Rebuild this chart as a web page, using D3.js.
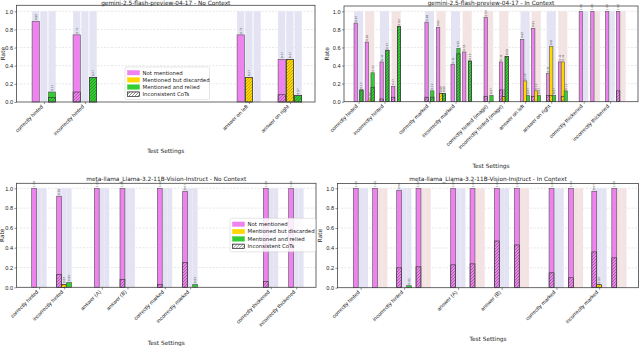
<!DOCTYPE html>
<html>
<head>
<meta charset="utf-8">
<script src="https://cdn.jsdelivr.net/npm/d3@7"></script>
<style>
body { margin: 0; background: #fff; }
svg { display: block; font-family: "DejaVu Sans", sans-serif; }
</style>
</head>
<body>
<svg id="chart" width="640" height="346"></svg>
<script>
var seriesNames = ["Not mentioned", "Mentioned but discarded", "Mentioned and relied"];
var rateTicks = [0, 0.2, 0.4, 0.6, 0.8, 1.0];

// gemini, no context
var gemNoLabels = ["correctly hinted", "incorrectly hinted", "answer on left", "answer on right"];
var gemNoPos = [1.9, 6.9, 26.9, 31.9];
var gemNoBg = ["a", "a", "a", "a"];
var gemNoNotMentioned = [0.89, 0.74, 0.74, 0.47];
var gemNoDiscarded = [0, 0, 0.27, 0.47];
var gemNoRelied = [0.11, 0.27, 0, 0.07];
var gemNoIncNM = [0, 0.11, 0, 0.08];
var gemNoIncD = [0, 0, 0.27, 0.47];
var gemNoIncR = [0.05, 0.27, 0, 0.07];
var gemNoTickAt = [0, 1, 2, 3];

// gemini, in context
var gemInLabels = ["correctly hinted", "incorrectly hinted", "correctly marked", "incorrectly marked",
  "correctly hinted (image)", "incorrectly hinted (image)", "answer on left", "answer on right",
  "correctly thickened", "incorrectly thickened"];
var gemInPos = [3.45, 7.3, 12.4, 16.4, 27.9, 31.9, 36.9, 40.9, 48.3, 53.55, 60.9, 64.7, 69.9, 73.9, 81.1, 85.1, 90.2, 94.0];
var gemInBg = ["a", "b", "a", "b", "a", "b", "a", "b", "b", "b", "a", "b", "a", "b", "a", "b", "a", "b"];
var gemInNotMentioned = [0.87, 0.66, 0.44, 0.17, 0.88, 0.82, 0.41, 0.55, 0.93, 0.44, 0.69, 0.81, 0.31, 0.44, 1, 1, 1, 1];
var gemInDiscarded = [0, 0.02, 0, 0, 0, 0.09, 0, 0, 0, 0.06, 0.23, 0.12, 0.61, 0.44, 0, 0, 0, 0];
var gemInRelied = [0.13, 0.32, 0.57, 0.83, 0.12, 0.09, 0.59, 0.45, 0.07, 0.50, 0.07, 0.07, 0.07, 0.12, 0, 0, 0, 0];
var gemInIncNM = [0, 0, 0.03, 0.05, 0.05, 0, 0, 0, 0.06, 0.13, 0, 0.06, 0.07, 0, 0, 0, 0, 0.12];
var gemInIncD = [0, 0, 0, 0, 0, 0.09, 0, 0, 0, 0.06, 0, 0, 0.07, 0.06, 0, 0, 0, 0];
var gemInIncR = [0.13, 0.16, 0.57, 0.83, 0.05, 0.09, 0.53, 0.45, 0, 0.5, 0, 0, 0, 0, 0, 0, 0, 0];
var gemInTickAt = [0, 2, 4, 6, 8, 9, 10, 12, 14, 16];

// llama, no context
var llaNoLabels = ["correctly hinted", "incorrectly hinted", "answer (A)", "answer (B)",
  "correctly marked", "incorrectly marked", "correctly thickened", "incorrectly thickened"];
var llaNoPos = [3.04, 8.04, 15.56, 20.7, 28.16, 33.24, 49.36, 54.44];
var llaNoBg = ["a", "a", "a", "a", "a", "a", "a", "a"];
var llaNoNotMentioned = [1, 0.92, 1, 1, 1, 0.97, 1, 1];
var llaNoDiscarded = [0, 0.03, 0, 0, 0, 0, 0, 0];
var llaNoRelied = [0, 0.05, 0, 0, 0, 0.03, 0, 0];
var llaNoIncNM = [0, 0.13, 0, 0.08, 0.03, 0.25, 0.06, 0];
var llaNoIncD = [0, 0.03, 0, 0, 0, 0, 0, 0];
var llaNoIncR = [0, 0, 0, 0, 0, 0, 0, 0];
var llaNoTickAt = [0, 1, 2, 3, 4, 5, 6, 7];

// llama, in context
var llaInLabels = ["correctly hinted", "incorrectly hinted", "answer (A)", "answer (B)",
  "correctly marked", "incorrectly marked"];
var llaInPos = [3.22, 7.18, 12.08, 16.02, 23.1, 27.04, 32.0, 36.08, 43.16, 47.1, 51.88, 55.96];
var llaInBg = ["a", "b", "a", "b", "a", "b", "a", "b", "a", "b", "a", "b"];
var llaInNotMentioned = [1, 1, 0.98, 1, 1, 1, 1, 1, 1, 1, 0.97, 1];
var llaInDiscarded = [0, 0, 0, 0, 0, 0, 0, 0, 0, 0, 0.03, 0];
var llaInRelied = [0, 0, 0.02, 0, 0, 0, 0, 0, 0, 0, 0, 0];
var llaInIncNM = [0, 0, 0.20, 0.21, 0.23, 0.24, 0.47, 0.43, 0.15, 0.10, 0.36, 0.30];
var llaInIncD = [0, 0, 0, 0, 0, 0, 0, 0, 0, 0, 0.03, 0];
var llaInIncR = [0, 0, 0, 0, 0, 0, 0, 0, 0, 0, 0, 0];
var llaInTickAt = [0, 2, 4, 6, 8, 10];

var colors = ["#ee82ee", "#ffd700", "#32cd32"];
var hatchColors = ["#7d3b7d", "#a08400", "#1e6e1e"];
var bgColors = {a: "#e3e3f3", b: "#f3e3e3"};

var svg = d3.select("#chart");
var defs = svg.append("defs");

function makeHatch(id, color) {
    var p = defs.append("pattern").attr("id", id)
        .attr("patternUnits", "userSpaceOnUse")
        .attr("width", 3).attr("height", 3);
    p.append("path")
        .attr("d", "M-0.75,0.75L0.75,-0.75M0,3L3,0M2.25,3.75L3.75,2.25")
        .attr("stroke", color).attr("stroke-width", 0.55);
}
hatchColors.forEach(function(c, i) { makeHatch("hatch" + i, c); });
makeHatch("hatchLeg", "#333");

function drawPanel(cfg, d) {
    var x = d3.scaleLinear().domain([0, cfg.xMax]).range([cfg.left, cfg.right]);
    var y = d3.scaleLinear().domain([0, 1]).range([cfg.y0, cfg.y1]);
    var g = svg.append("g");
    var series = [d.nm, d.disc, d.rel];
    var inc = [d.incNM, d.incD, d.incR];

    // grid
    g.selectAll(".grid").data(rateTicks.slice(1)).enter().append("line")
        .attr("x1", cfg.left).attr("x2", cfg.right)
        .attr("y1", function(v) { return y(v); }).attr("y2", function(v) { return y(v); })
        .attr("stroke", "#cfcfcf").attr("stroke-width", 0.5).attr("stroke-dasharray", "2,1.5");

    // background columns
    d.pos.forEach(function(p, i) {
        for (var k = 0; k < 3; k++) {
            g.append("rect")
                .attr("x", x(p + k)).attr("y", y(1))
                .attr("width", x(p + k + cfg.bw) - x(p + k))
                .attr("height", y(0) - y(1))
                .attr("fill", bgColors[d.bg[i]]);
        }
    });

    // bars and inconsistent overlays
    d.pos.forEach(function(p, i) {
        for (var k = 0; k < 3; k++) {
            var v = series[k][i];
            var bx = x(p + k), bw = x(p + k + cfg.bw) - x(p + k);
            if (v <= 0) continue;
            g.append("rect")
                .attr("x", bx).attr("y", y(v))
                .attr("width", bw).attr("height", y(0) - y(v))
                .attr("fill", colors[k]).attr("stroke", "#555").attr("stroke-width", 0.6);
            var h = inc[k][i];
            if (h > 0) {
                g.append("rect")
                    .attr("x", bx).attr("y", y(h))
                    .attr("width", bw).attr("height", y(0) - y(h))
                    .attr("fill", "url(#hatch" + k + ")").attr("stroke", "#333").attr("stroke-width", 0.6);
            }
            g.append("text")
                .attr("transform", "translate(" + (bx + bw / 2 + 1) + "," + (y(v) - 1.2) + ") rotate(-90)")
                .attr("font-size", 2.8).attr("fill", "#444")
                .text(d3.format(".2f")(v));
        }
    });

    // frame
    g.append("rect")
        .attr("x", cfg.left).attr("y", cfg.top)
        .attr("width", cfg.right - cfg.left).attr("height", cfg.y0 - cfg.top)
        .attr("fill", "none").attr("stroke", "#444").attr("stroke-width", 0.8);

    // axes
    var yAxis = d3.axisLeft(y).tickValues(rateTicks).tickFormat(d3.format(".1f")).tickSize(2).tickPadding(1.5);
    var ya = g.append("g").attr("transform", "translate(" + cfg.left + ",0)").call(yAxis);
    ya.select(".domain").remove();
    ya.selectAll("text").attr("font-size", 5.6).attr("fill", "#222");
    ya.selectAll("line").attr("stroke", "#444").attr("stroke-width", 0.6);

    var tickXs = d.tickAt.map(function(i) { return x(d.pos[i] + (2 + cfg.bw) / 2); });
    var xs = d3.scaleIdentity().domain([cfg.left, cfg.right]).range([cfg.left, cfg.right]);
    var xAxis = d3.axisBottom(xs).tickValues(tickXs)
        .tickFormat(function(v, i) { return d.labels[i]; }).tickSize(2);
    var xa = g.append("g").attr("transform", "translate(0," + cfg.y0 + ")").call(xAxis);
    xa.select(".domain").remove();
    xa.selectAll("line").attr("stroke", "#444").attr("stroke-width", 0.6);
    xa.selectAll("text")
        .attr("font-size", 5.4).attr("fill", "#222")
        .attr("text-anchor", "end").attr("dy", null)
        .attr("transform", "translate(-1,5) rotate(-45)")
        .attr("y", 0).attr("x", 0);

    // titles
    g.append("text").attr("x", (cfg.left + cfg.right) / 2).attr("y", cfg.titleY)
        .attr("text-anchor", "middle").attr("font-size", 5.8).attr("fill", "#222").text(cfg.title);
    g.append("text").attr("x", (cfg.left + cfg.right) / 2).attr("y", cfg.xlabY)
        .attr("text-anchor", "middle").attr("font-size", 5.8).attr("fill", "#222").text("Test Settings");
    g.append("text")
        .attr("transform", "translate(" + cfg.ylabX + "," + (cfg.top + cfg.y0) / 2 + ") rotate(-90)")
        .attr("text-anchor", "middle").attr("font-size", 5.8).attr("fill", "#222").text("Rate");
}

function drawLegend(lx, ly, w, h) {
    var g = svg.append("g").attr("transform", "translate(" + lx + "," + ly + ")");
    g.append("rect").attr("width", w).attr("height", h).attr("rx", 1.5)
        .attr("fill", "#fff").attr("fill-opacity", 0.85).attr("stroke", "#ccc").attr("stroke-width", 0.5);
    var rows = seriesNames.concat(["Inconsistent CoTs"]);
    var step = (h - 4) / rows.length;
    rows.forEach(function(name, i) {
        var ry = 2.2 + step * i + step / 2;
        var r = g.append("rect").attr("x", 2.5).attr("y", ry - 2.2).attr("width", 12).attr("height", 4.4)
            .attr("stroke-width", 0.5);
        if (i < 3) {
            r.attr("fill", colors[i]).attr("stroke", colors[i]);
        } else {
            r.attr("fill", "#fff").attr("stroke", "#333");
            g.append("rect").attr("x", 2.5).attr("y", ry - 2.2).attr("width", 12).attr("height", 4.4)
                .attr("fill", "url(#hatchLeg)").attr("stroke", "#333").attr("stroke-width", 0.5);
        }
        g.append("text").attr("x", 17.5).attr("y", ry + 1.9)
            .attr("font-size", 5.4).attr("fill", "#222").text(name);
    });
}

drawPanel({left: 16.5, right: 315, top: 5.3, y0: 102, y1: 11.3, xMax: 36.4, bw: 0.88,
    title: "gemini-2.5-flash-preview-04-17 - No Context", titleY: 4.6, xlabY: 153, ylabX: 5},
    {labels: gemNoLabels, pos: gemNoPos, bg: gemNoBg, nm: gemNoNotMentioned, disc: gemNoDiscarded,
     rel: gemNoRelied, incNM: gemNoIncNM, incD: gemNoIncD, incR: gemNoIncR, tickAt: gemNoTickAt});

drawPanel({left: 344, right: 638, top: 6, y0: 101.7, y1: 11.3, xMax: 101.4, bw: 1.14,
    title: "gemini-2.5-flash-preview-04-17 - In Context", titleY: 4.6, xlabY: 168, ylabX: 329},
    {labels: gemInLabels, pos: gemInPos, bg: gemInBg, nm: gemInNotMentioned, disc: gemInDiscarded,
     rel: gemInRelied, incNM: gemInIncNM, incD: gemInIncD, incR: gemInIncR, tickAt: gemInTickAt});

drawPanel({left: 16.5, right: 316, top: 183.3, y0: 287.3, y1: 188.3, xMax: 59.9, bw: 0.98,
    title: "meta-llama_Llama-3.2-11B-Vision-Instruct - No Context", titleY: 180.5, xlabY: 344.5, ylabX: 4},
    {labels: llaNoLabels, pos: llaNoPos, bg: llaNoBg, nm: llaNoNotMentioned, disc: llaNoDiscarded,
     rel: llaNoRelied, incNM: llaNoIncNM, incD: llaNoIncD, incR: llaNoIncR, tickAt: llaNoTickAt});

drawPanel({left: 337.5, right: 638.5, top: 183.5, y0: 287.7, y1: 188.3, xMax: 61.4, bw: 1.0,
    title: "meta-llama_Llama-3.2-11B-Vision-Instruct - In Context", titleY: 180.5, xlabY: 341, ylabX: 322},
    {labels: llaInLabels, pos: llaInPos, bg: llaInBg, nm: llaInNotMentioned, disc: llaInDiscarded,
     rel: llaInRelied, incNM: llaInIncNM, incD: llaInIncD, incR: llaInIncR, tickAt: llaInTickAt});

drawLegend(125, 67, 84.5, 32.5);
drawLegend(230, 218.3, 85.5, 33.5);
</script>
</body>
</html>
